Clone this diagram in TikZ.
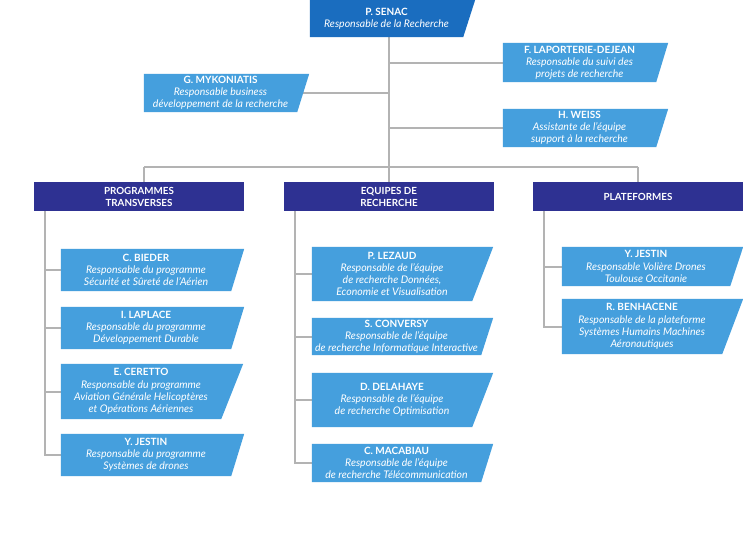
\documentclass[tikz,border=0pt]{standalone}
\usepackage{fontspec}
\setmainfont{Lato}
\usetikzlibrary{backgrounds}
\definecolor{lblue}{HTML}{459FDD}
\definecolor{navy}{HTML}{2E3192}
\definecolor{mblue}{HTML}{1A6DBF}
\definecolor{linegray}{HTML}{B3B3B3}
\tikzset{
  card/.style={rectangle, inner sep=0pt, align=center, text=white, font=\fontsize{10.5}{12.2}\selectfont},
  cardbox/.style 2 args={card, minimum width=#1pt, minimum height=#2pt},
  headbox/.style={card, fill=navy, font=\bfseries\fontsize{9.8}{12}\selectfont, minimum width=210pt, minimum height=29pt},
  link/.style={draw=linegray, line width=2pt},
}
\newcommand{\nm}[1]{{\fontsize{10}{12.2}\selectfont\textbf{#1}}}
\newcommand{\rl}[1]{\textit{#1}}
\newcommand{\slfill}[3]{\fill[#3] (#1.north west) -- ([xshift=#2pt]#1.north east) -- (#1.south east) -- (#1.south west) -- cycle;}
\begin{document}
\begin{tikzpicture}[x=1pt,y=-1pt]
\useasboundingbox (0,0) rectangle (743,536);
% top
\node[cardbox={153}{37}] (senac) at (386.5,18.5) {\nm{P. SENAC}\\\rl{Responsable de la Recherche}};
\node[cardbox={153}{38}] (myko) at (220.5,93) {\nm{G. MYKONIATIS}\\\rl{Responsable business}\\\rl{développement de la recherche}};
\node[cardbox={153}{39}] (lapo) at (579.5,62.5) {\nm{F. LAPORTERIE-DEJEAN}\\\rl{Responsable du suivi des}\\\rl{projets de recherche}};
\node[cardbox={153}{38}] (weiss) at (579.5,128) {\nm{H. WEISS}\\\rl{Assistante de l’équipe}\\\rl{support à la recherche}};
% headers
\node[headbox] (prog) at (139,196.5) {PROGRAMMES\\TRANSVERSES};
\node[headbox] (equipes) at (389,196.5) {EQUIPES DE\\RECHERCHE};
\node[headbox] (plat) at (638,196.5) {PLATEFORMES};
% left column
\node[cardbox={170}{42}] (bieder) at (146,270) {\nm{C. BIEDER}\\\rl{Responsable du programme}\\\rl{Sécurité et Sûreté de l’Aérien}};
\node[cardbox={170}{42}] (laplace) at (146,328) {\nm{I. LAPLACE}\\\rl{Responsable du programme}\\\rl{Développement Durable}};
\node[cardbox={160}{55}] (ceretto) at (141,391.5) {\nm{E. CERETTO}\\\rl{Responsable du programme}\\\rl{Aviation Générale Helicoptères}\\\rl{et Opérations Aériennes}};
\node[cardbox={170}{42}] (jestinA) at (146,455) {\nm{Y. JESTIN}\\\rl{Responsable du programme}\\\rl{Systèmes de drones}};
% middle column
\node[cardbox={160}{54}] (lezaud) at (392,274) {\nm{P. LEZAUD}\\\rl{Responsable de l’équipe}\\\rl{de recherche Données,}\\\rl{Economie et Visualisation}};
\node[cardbox={169}{37}] (conversy) at (396.5,336.5) {\nm{S. CONVERSY}\\\rl{Responsable de l’équipe}\\\rl{de recherche Informatique Interactive}};
\node[cardbox={160}{54}] (delahaye) at (392,400) {\nm{D. DELAHAYE}\\\rl{Responsable de l’équipe}\\\rl{de recherche Optimisation}};
\node[cardbox={169}{38}] (macabiau) at (396.5,463) {\nm{C. MACABIAU}\\\rl{Responsable de l’équipe}\\\rl{de recherche Télécommunication}};
% right column
\node[cardbox={168}{39}] (jestinB) at (646,266.5) {\nm{Y. JESTIN}\\\rl{Responsable Volière Drones}\\\rl{Toulouse Occitanie}};
\node[cardbox={160}{55}] (benhacene) at (642,326.5) {\nm{R. BENHACENE}\\\rl{Responsable de la plateforme}\\\rl{Systèmes Humains Machines}\\\rl{Aéronautiques}};
\coordinate (hub) at (389,167);
\coordinate (lhub) at (144,167);
\coordinate (rhub) at (638,167);
\coordinate (lt) at ([xshift=11pt]prog.south west);
\coordinate (mt) at ([xshift=11pt]equipes.south west);
\coordinate (rt) at ([xshift=11pt]plat.south west);
\begin{scope}[on background layer]
\fill[white] (0,0) rectangle (743,536);
% connectors
\draw[link] (senac.south -| hub) -- (equipes.north);
\draw[link] (lhub) -- (rhub);
\draw[link] (lhub) -- (lhub |- prog.north);
\draw[link] (rhub) -- (rhub |- plat.north);
\draw[link] (myko.east) -- (myko.east -| hub);
\draw[link] (lapo.west) -- (lapo.west -| hub);
\draw[link] (weiss.west) -- (weiss.west -| hub);
\draw[link] (lt) |- (jestinA.west);
\draw[link] (lt |- bieder.west) -- (bieder.west);
\draw[link] (lt |- laplace.west) -- (laplace.west);
\draw[link] (lt |- ceretto.west) -- (ceretto.west);
\draw[link] (mt) |- (macabiau.west);
\draw[link] (mt |- lezaud.west) -- (lezaud.west);
\draw[link] (mt |- conversy.west) -- (conversy.west);
\draw[link] (mt |- delahaye.west) -- (delahaye.west);
\draw[link] (rt) |- (benhacene.west);
\draw[link] (rt |- jestinB.west) -- (jestinB.west);
% shapes
\slfill{senac}{12}{mblue}
\slfill{myko}{12}{lblue}
\slfill{lapo}{12}{lblue}
\slfill{weiss}{12}{lblue}
\slfill{bieder}{13}{lblue}
\slfill{laplace}{13}{lblue}
\slfill{ceretto}{22}{lblue}
\slfill{jestinA}{13}{lblue}
\slfill{lezaud}{21}{lblue}
\slfill{conversy}{12}{lblue}
\slfill{delahaye}{21}{lblue}
\slfill{macabiau}{12}{lblue}
\slfill{jestinB}{13}{lblue}
\slfill{benhacene}{21}{lblue}
\end{scope}
\end{tikzpicture}
\end{document}
